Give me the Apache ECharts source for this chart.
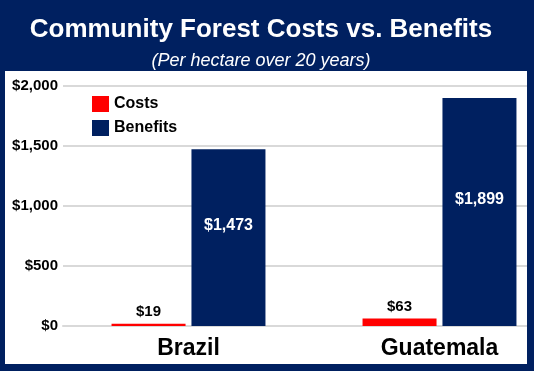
<!DOCTYPE html>
<html>
<head>
<meta charset="utf-8">
<script src="https://cdn.jsdelivr.net/npm/echarts@6/dist/echarts.min.js"></script>
<style>
html,body{margin:0;padding:0;background:#002060;overflow:hidden;width:534px;height:371px;}
#chart{width:580px;height:371px;}
</style>
</head>
<body>
<div id="chart"></div>
<script>
const categories = ['Brazil', 'Guatemala'];
const costs = [19, 63];
const benefits = [1473, 1899];
const yTicks = [0, 500, 1000, 1500, 2000];

const fmt = v => '$' + v.toLocaleString('en-US');
const NAVY = '#002060';
const FONT = '"Liberation Sans", Arial, sans-serif';

const chart = echarts.init(document.getElementById('chart'), null, {renderer: 'canvas'});
chart.setOption({
  backgroundColor: NAVY,
  animation: false,
  textStyle: {fontFamily: FONT},
  title: [{
    text: 'Community Forest Costs vs. Benefits',
    left: 256, top: 12, textAlign: 'center',
    textStyle: {color: '#fff', fontSize: 26, fontWeight: 'bold', fontFamily: FONT}
  }, {
    text: '(Per hectare over 20 years)',
    left: 256, top: 47, textAlign: 'center',
    textStyle: {color: '#fff', fontSize: 18, fontStyle: 'italic', fontWeight: 'normal', fontFamily: FONT}
  }],
  graphic: [{
    type: 'rect', z: -10, silent: true,
    shape: {x: 5, y: 71, width: 522, height: 293},
    style: {fill: '#fff'}
  }, {
    type: 'rect', z: 100, silent: true,
    shape: {x: 527, y: 60, width: 60, height: 320},
    style: {fill: NAVY}
  }],
  legend: {
    orient: 'vertical', left: 92, top: 96, padding: 0,
    itemWidth: 17, itemHeight: 16, itemGap: 8,
    icon: 'rect',
    textStyle: {fontSize: 16, fontWeight: 'bold', color: '#000', fontFamily: FONT},
    data: ['Costs', 'Benefits']
  },
  grid: {left: 63, top: 86, width: 502, bottom: 371 - 326, containLabel: false},
  xAxis: {
    type: 'category', data: categories,
    axisLine: {show: true, lineStyle: {color: '#d9d9d9', width: 2}},
    axisTick: {show: false},
    axisLabel: {fontSize: 23, fontWeight: 'bold', color: '#000', margin: 11, fontFamily: FONT}
  },
  yAxis: {
    type: 'value', min: yTicks[0], max: yTicks[yTicks.length - 1], interval: 500,
    axisLine: {show: false}, axisTick: {show: false},
    splitLine: {lineStyle: {color: '#d9d9d9', width: 2}},
    axisLabel: {fontSize: 15, fontWeight: 'bold', color: '#000', margin: 5, fontFamily: FONT,
      formatter: v => fmt(v)}
  },
  series: [{
    name: 'Costs', type: 'bar', data: costs,
    barWidth: 74, barGap: '8%',
    itemStyle: {color: '#ff0000'},
    label: {show: true, position: 'top', distance: 4, fontSize: 15, fontWeight: 'bold', color: '#000',
      fontFamily: FONT, formatter: p => fmt(p.value)}
  }, {
    name: 'Benefits', type: 'bar', data: benefits,
    barWidth: 74,
    itemStyle: {color: NAVY},
    label: {show: true, position: 'inside', offset: [0, -12], fontSize: 16, fontWeight: 'bold', color: '#fff',
      fontFamily: FONT, formatter: p => fmt(p.value)}
  }]
});
</script>
</body>
</html>
